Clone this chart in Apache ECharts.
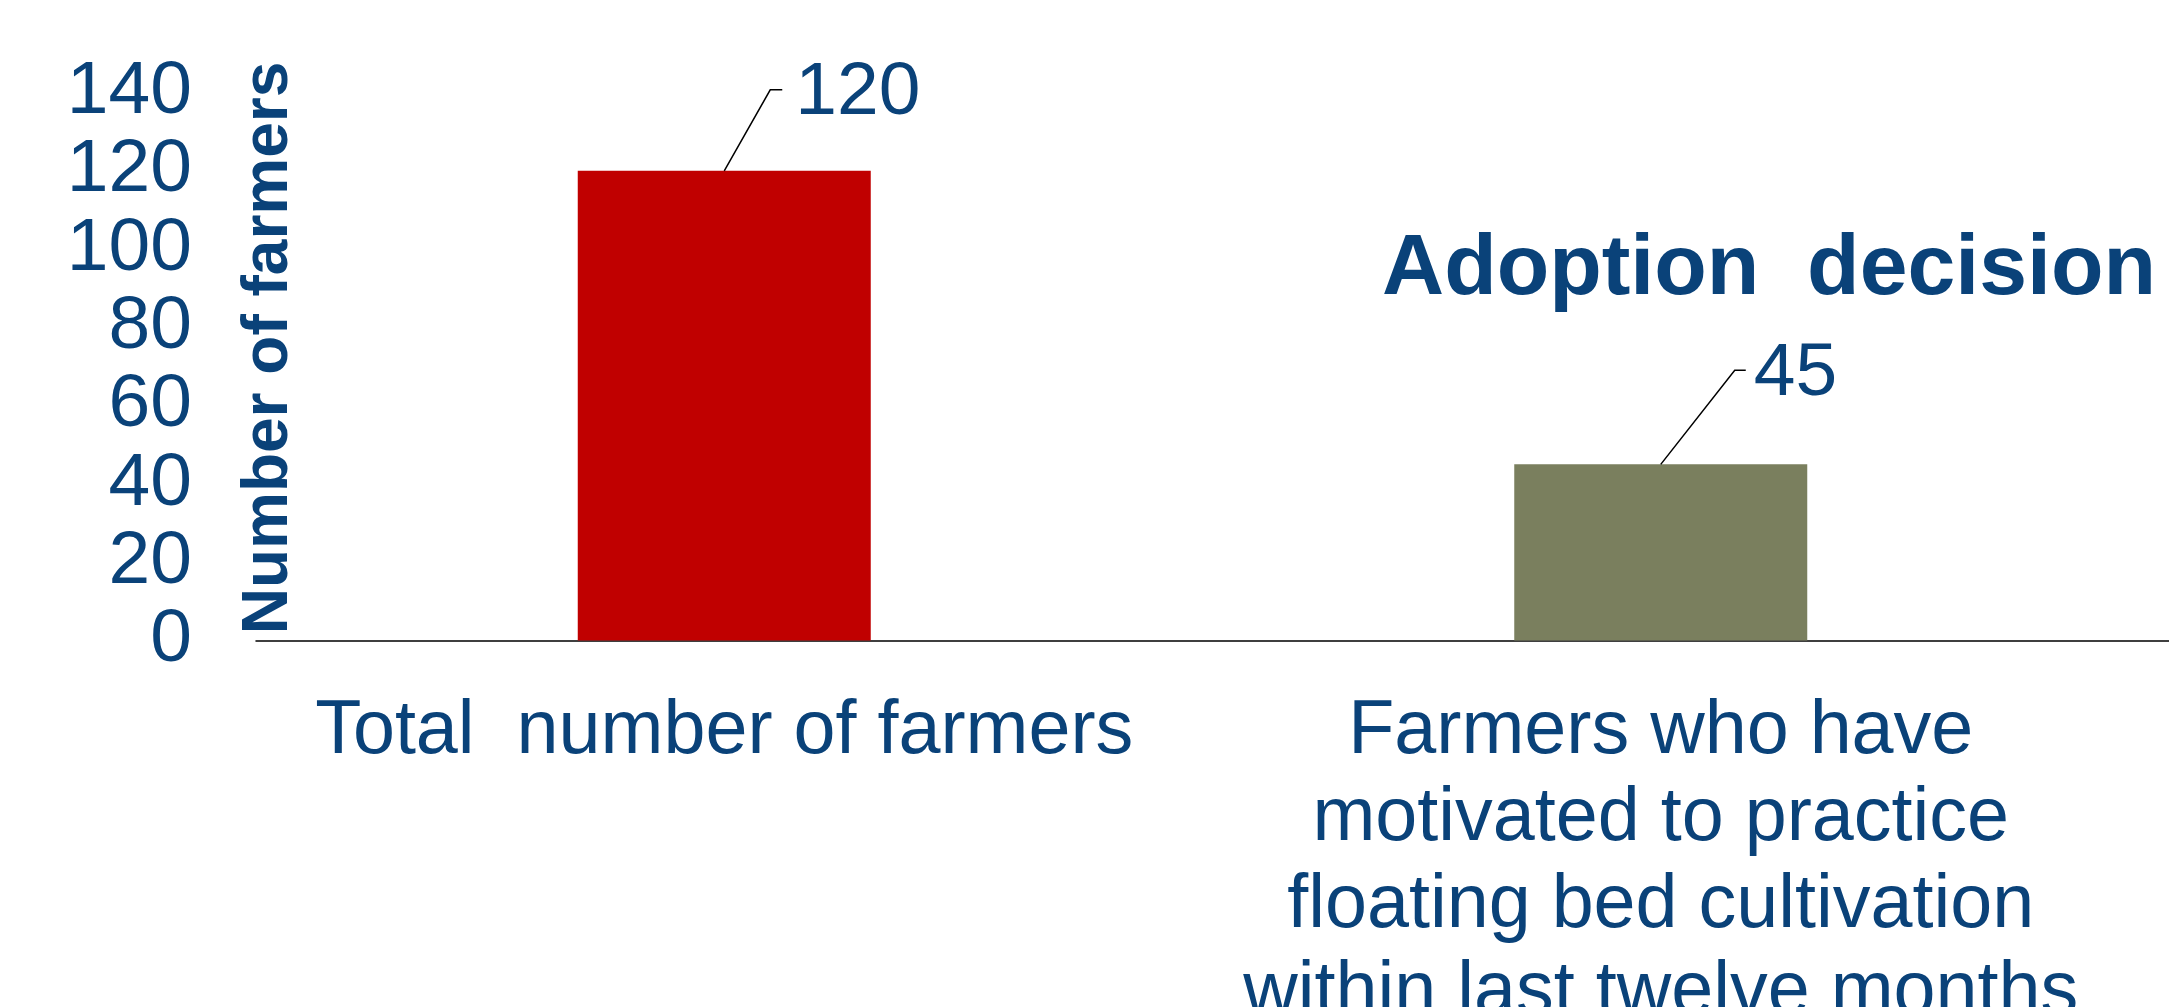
<!DOCTYPE html>
<html>
<head>
<meta charset="utf-8">
<script src="https://cdn.jsdelivr.net/npm/echarts@6/dist/echarts.min.js"></script>
<style>
html,body{margin:0;padding:0;background:#fff;}
#chart{width:2169px;height:1007px;}
</style>
</head>
<body>
<div id="chart"></div>
<script>
// ---- data ----
const categories = [
  'Total  number of farmers',
  'Farmers who have\nmotivated to practice\nfloating bed cultivation\nwithin last twelve months'
];
const farmerCounts = [120, 45];
const yTicks = [0, 20, 40, 60, 80, 100, 120, 140];
const yAxisTitle = 'Number of farmers';
const chartTitle = 'Adoption  decision';

// ---- styling ----
const TEXT = '#0A4279';
const FONT = "'Liberation Sans', Arial, Helvetica, sans-serif";
const BAR_COLORS = ['#C00000', '#7A7F5E'];
// leader line offsets per bar: [dx, dy, horizontal length, text gap]
const LEADERS = [[46, -81, 12, 13], [74, -94, 11, 8]];

const GRID = {left: 256, right: 40, top: 92.5, bottom: 366.5};

const chart = echarts.init(document.getElementById('chart'), null, {renderer: 'canvas'});

const option = {
  backgroundColor: '#fff',
  animation: false,
  textStyle: {fontFamily: FONT},
  grid: [
    {left: GRID.left, right: GRID.right, top: GRID.top, bottom: GRID.bottom, containLabel: false, outerBoundsMode: 'none'},
    {left: GRID.left, right: 0, top: GRID.top, bottom: GRID.bottom, containLabel: false, outerBoundsMode: 'none'}
  ],
  xAxis: [
    {
      type: 'category', gridIndex: 0, data: categories,
      axisLine: {show: false}, axisTick: {show: false},
      axisLabel: {
        interval: 0, margin: 48, color: TEXT, fontSize: 75.5, lineHeight: 87,
        fontFamily: FONT, align: 'center', verticalAlign: 'top'
      }
    },
    {
      type: 'value', gridIndex: 1, min: 0, max: 1,
      axisLine: {show: true, onZero: false, lineStyle: {color: '#000', width: 1.5}},
      axisTick: {show: false}, axisLabel: {show: false}, splitLine: {show: false}
    }
  ],
  yAxis: [
    {
      type: 'value', gridIndex: 0, min: yTicks[0], max: yTicks[yTicks.length - 1],
      interval: yTicks[1] - yTicks[0],
      axisLine: {show: false}, axisTick: {show: false}, splitLine: {show: false},
      axisLabel: {margin: 64, color: TEXT, fontSize: 75, fontFamily: FONT, padding: [6, 0, 0, 0]}
    },
    {
      type: 'value', gridIndex: 1, min: 0, max: 1, show: false
    }
  ],
  graphic: [
    {
      type: 'text', x: 269, y: 348, rotation: Math.PI / 2,
      style: {
        text: yAxisTitle, fill: TEXT, font: 'bold 64px ' + FONT,
        textAlign: 'center', textVerticalAlign: 'middle'
      }
    },
    {
      type: 'text', x: 1769, y: 270,
      style: {
        text: chartTitle, fill: TEXT, font: 'bold 86px ' + FONT,
        textAlign: 'center', textVerticalAlign: 'middle'
      }
    }
  ],
  series: [
    {
      type: 'bar', xAxisIndex: 0, yAxisIndex: 0,
      barWidth: 293,
      data: farmerCounts.map((v, i) => ({value: v, itemStyle: {color: BAR_COLORS[i]}})),
      label: {show: false}
    },
    {
      type: 'custom', xAxisIndex: 0, yAxisIndex: 0,
      data: farmerCounts.map((v, i) => [i, v]),
      z: 5,
      renderItem: function (params, api) {
        const i = params.dataIndex;
        const p = api.coord([api.value(0), api.value(1)]);
        const L = LEADERS[i];
        const x1 = p[0] + L[0], y1 = p[1] + L[1];
        const x2 = x1 + L[2];
        return {
          type: 'group',
          children: [
            {
              type: 'polyline',
              shape: {points: [[p[0], p[1]], [x1, y1], [x2, y1]]},
              style: {stroke: '#000', lineWidth: 1.5, fill: null}
            },
            {
              type: 'text',
              x: x2 + L[3], y: y1 + 4,
              style: {
                text: String(api.value(1)), fill: TEXT, font: '75px ' + FONT,
                textAlign: 'left', textVerticalAlign: 'middle'
              }
            }
          ]
        };
      }
    }
  ]
};

chart.setOption(option);
</script>
</body>
</html>
